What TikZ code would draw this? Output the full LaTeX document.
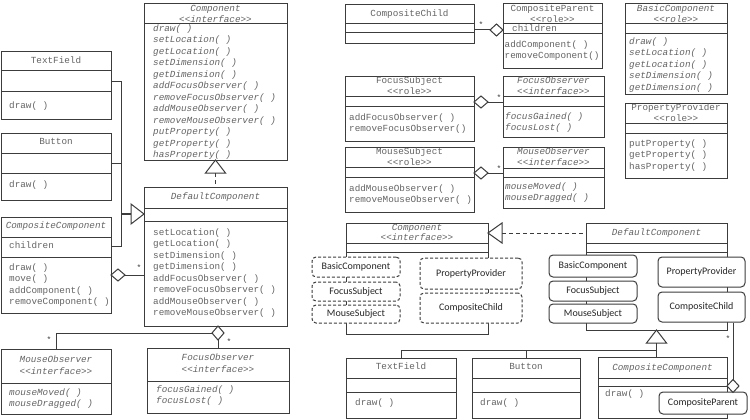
\documentclass[tikz,border=0pt]{standalone}
\usepackage{fontspec}
\setmonofont{Liberation Mono}
\setsansfont{Carlito}
\usetikzlibrary{shapes.geometric,calc}
\definecolor{lc}{RGB}{60,60,60}
\definecolor{tc}{RGB}{100,100,100}
\tikzset{
 ubox/.style={draw=lc, line width=1pt, fill=white, inner sep=0pt, outer sep=0pt, rectangle},
 conn/.style={draw=lc, line width=1pt},
 mono/.style={font=\fontsize{9.3}{11}\selectfont\ttfamily, text=tc, inner sep=0pt, text height=7pt, text depth=2pt},
 monoi/.style={mono, font=\fontsize{9.3}{11}\selectfont\ttfamily\itshape},
 rbox/.style={draw=lc, line width=1pt, rounded corners=4pt, fill=white, inner sep=0pt, font=\fontsize{10}{12}\selectfont\sffamily, text=black!85},
 dbox/.style={rbox, dash pattern=on 3pt off 2pt},
 agg/.style={diamond, draw=lc, line width=1pt, fill=white, inner sep=0pt, outer sep=0pt},
 mult/.style={font=\fontsize{8}{8}\selectfont\ttfamily, text=lc, inner sep=0pt},
 realize/.style={conn, dash pattern=on 4pt off 3pt},
}
\newcommand\ubx[5]{\node[ubox, anchor=north west, minimum width=#4pt, minimum height=#5pt] (#1) at (#2,#3) {};}
\newcommand\dv[2]{\draw[conn] ([yshift=-#2pt]#1.north west) -- ([yshift=-#2pt]#1.north east);}
\newcommand\ml[5]{\foreach \t [count=\i from 0] in {#5} {\node[#4, anchor=west] (#1-\i) at (#2,{#3+11.45*\i}) {\t};}}
\begin{document}
\begin{tikzpicture}[x=1pt,y=-1pt]
\useasboundingbox (0,0) rectangle (750,420);
\fill[white] (0,0) rectangle (750,420);

% ================= LEFT =================
\ubx{compL}{144}{4}{143}{156}
\dv{compL}{20}
\node[monoi] (compL-t) at (215.5,9) {Component};
\node[monoi] (compL-s) at (215.5,20) {<{}<interface>{}>};
\ml{compL-m}{153}{29}{monoi}{draw( ),setLocation( ),getLocation( ),setDimension( ),getDimension( ),addFocusObserver( ),removeFocusObserver( ),addMouseObserver( ),removeMouseObserver( ),putProperty( ),getProperty( ),hasProperty( )}

\ubx{dcL}{144}{187}{143}{139}
\dv{dcL}{21}\dv{dcL}{34}
\node[monoi] (dcL-t) at (215.5,197) {DefaultComponent};
\ml{dcL-m}{153}{233}{mono}{setLocation( ),getLocation( ),setDimension( ),getDimension( ),addFocusObserver( ),removeFocusObserver( ),addMouseObserver( ),removeMouseObserver( )}

\ubx{tfL}{1}{52}{110}{67}
\dv{tfL}{19}\dv{tfL}{40}
\node[mono] (tfL-t) at (56,61) {TextField};
\node[mono, anchor=west] (tfL-m) at (9,106) {draw( )};

\ubx{btL}{1}{133}{110}{67}
\dv{btL}{20}\dv{btL}{40}
\node[mono] (btL-t) at (56,142) {Button};
\node[mono, anchor=west] (btL-m) at (9,185) {draw( )};

\ubx{ccL}{1}{217}{110}{96}
\dv{ccL}{20}\dv{ccL}{40}
\node[monoi] (ccL-t) at (56,226) {CompositeComponent};
\node[mono, anchor=west] (ccL-a) at (9,246) {children};
\ml{ccL-m}{9}{268}{mono}{draw( ),move( ),addComponent( ),removeComponent( )}

\ubx{moL}{1}{349}{110}{65}
\dv{moL}{34}
\node[monoi] (moL-t) at (56,360) {MouseObserver};
\node[monoi] (moL-s) at (56,372) {<{}<interface>{}>};
\ml{moL-m}{9}{393}{monoi}{mouseMoved( ),mouseDragged( )}

\ubx{foL}{147}{348}{142}{65}
\dv{foL}{33}
\node[monoi] (foL-t) at (218,358) {FocusObserver};
\node[monoi] (foL-s) at (218,370) {<{}<interface>{}>};
\ml{foL-m}{156}{390}{monoi}{focusGained( ),focusLost( )}

% left connectors
\coordinate (busL) at (121,214);
\draw[conn] (tfL.east |- 0,82) -| (busL);
\draw[conn] (btL.east |- 0,163) -- (busL |- 0,163);
\draw[conn] (ccL.east |- 0,246) -| (busL);
\draw[draw=lc, line width=2.2pt] (busL) -- ($(dcL.west |- busL)+(-13,0)$);
\draw[conn, fill=white] (dcL.west |- busL) -- ++(-13,-10) -- ++(0,20) -- cycle;

\draw[conn, fill=white] (compL.south) -- ++(-10,13) -- ++(20,0) -- cycle;
\draw[realize] ($(compL.south)+(0,13)$) -- (dcL.north);

\node[agg, minimum width=14pt, minimum height=12pt] (dmL1) at (118,275) {};
\draw[conn] (dmL1.east) -- (dcL.west |- dmL1.east);
\node[mult] (stL1) at (139,268) {*};

\node[agg, minimum width=12pt, minimum height=14pt] (dmL2) at (218,333) {};
\draw[conn] (dmL2.west) -| (moL.north);
\draw[conn] (dmL2.south) -- (dmL2.south |- foL.north);
\node[mult] (stL2) at (49,340) {*};
\node[mult] (stL3) at (229,342) {*};

% ================= RIGHT TOP =================
\ubx{ccT}{345}{5}{129}{39}
\dv{ccT}{19}\dv{ccT}{28}
\node[mono] (ccT-t) at (409.5,14) {CompositeChild};

\ubx{cpT}{503}{4}{99}{65}
\dv{cpT}{20}\dv{cpT}{30}
\node[mono] (cpT-t) at (552.5,9) {CompositeParent};
\node[mono] (cpT-s) at (552.5,20) {<{}<role>{}>};
\node[mono, anchor=west] (cpT-a) at (512,29.5) {children};
\ml{cpT-m}{504.5}{45}{mono}{addComponent( ),removeComponent()}

\ubx{fsT}{345}{77}{129}{64}
\dv{fsT}{20}\dv{fsT}{29}
\node[mono] (fsT-t) at (409.5,81) {FocusSubject};
\node[mono] (fsT-s) at (409.5,92) {<{}<role>{}>};
\ml{fsT-m}{349}{118}{mono}{addFocusObserver( ),removeFocusObserver()}

\ubx{foR}{503}{77}{101}{60}
\dv{foR}{20}\dv{foR}{29}
\node[monoi] (foR-t) at (553.5,81) {FocusObserver};
\node[monoi] (foR-s) at (553.5,92) {<{}<interface>{}>};
\ml{foR-m}{505}{117}{monoi}{focusGained( ),focusLost( )}

\ubx{msT}{345}{147}{129}{65}
\dv{msT}{20}\dv{msT}{30}
\node[mono] (msT-t) at (409.5,152) {MouseSubject};
\node[mono] (msT-s) at (409.5,163) {<{}<role>{}>};
\ml{msT-m}{349}{189}{mono}{addMouseObserver( ),removeMouseObserver( )}

\ubx{moR}{503}{147}{101}{61}
\dv{moR}{21}\dv{moR}{30}
\node[monoi] (moR-t) at (553.5,152) {MouseObserver};
\node[monoi] (moR-s) at (553.5,163) {<{}<interface>{}>};
\ml{moR-m}{505}{187}{monoi}{mouseMoved( ),mouseDragged( )}

\ubx{bcT}{625}{4}{102}{91}
\dv{bcT}{20}\dv{bcT}{30}
\node[monoi] (bcT-t) at (676,9) {BasicComponent};
\node[monoi] (bcT-s) at (676,20) {<{}<role>{}>};
\ml{bcT-m}{629}{42}{monoi}{draw( ),setLocation( ),getLocation( ),setDimension( ),getDimension( )}

\ubx{ppT}{625}{103}{102}{75}
\dv{ppT}{20}\dv{ppT}{30}
\node[mono] (ppT-t) at (676,108) {PropertyProvider};
\node[mono] (ppT-s) at (676,119) {<{}<role>{}>};
\ml{ppT-m}{629}{144}{mono}{putProperty( ),getProperty( ),hasProperty( )}

% top right connectors
\node[agg, minimum width=13pt, minimum height=12pt] (dmR1) at (496.5,30) {};
\draw[conn] (ccT.east |- dmR1) -- (dmR1.west);
\node[mult] (stR1) at (481,25) {*};
\node[agg, minimum width=14pt, minimum height=12pt] (dmR2) at (481,102) {};
\draw[conn] (dmR2.east) -- (foR.west |- dmR2);
\node[mult] (stR2) at (499,98) {*};
\node[agg, minimum width=14pt, minimum height=12pt] (dmR3) at (481,173) {};
\draw[conn] (dmR3.east) -- (moR.west |- dmR3);
\node[mult] (stR3) at (499,169) {*};

% ================= RIGHT BOTTOM =================
\ubx{compR}{346}{223}{142}{111}
\dv{compR}{20}\dv{compR}{29}
\node[monoi] (compR-t) at (417,227.5) {Component};
\node[monoi] (compR-s) at (417,238) {<{}<interface>{}>};
\node[dbox, minimum width=88pt, minimum height=20pt] (dBC) at (356,267) {BasicComponent};
\node[dbox, minimum width=88pt, minimum height=19pt] (dFS) at (356,291.5) {FocusSubject};
\node[dbox, minimum width=88pt, minimum height=18pt] (dMS) at (356,314) {MouseSubject};
\node[dbox, minimum width=102pt, minimum height=31pt] (dPP) at (471,273.5) {PropertyProvider};
\node[dbox, minimum width=102pt, minimum height=30pt] (dCC) at (471,308) {CompositeChild};

\ubx{dcR}{586}{223}{141}{107}
\dv{dcR}{20}\dv{dcR}{29}
\node[monoi] (dcR-t) at (656.5,233) {DefaultComponent};
\node[rbox, minimum width=88pt, minimum height=22pt] (sBC) at (593,266) {BasicComponent};
\node[rbox, minimum width=88pt, minimum height=20pt] (sFS) at (593,291) {FocusSubject};
\node[rbox, minimum width=88pt, minimum height=19pt] (sMS) at (593,313.5) {MouseSubject};
\node[rbox, minimum width=87pt, minimum height=30pt] (sPP) at (701.5,272) {PropertyProvider};
\node[rbox, minimum width=87pt, minimum height=30pt] (sCC) at (701.5,307) {CompositeChild};

\draw[conn, fill=white] ($(compR.north east)+(0,10)$) -- ++(14,-10) -- ++(0,20) -- cycle;
\draw[realize] ($(compR.north east)+(14,10)$) -- ($(dcR.north west)+(0,10)$);

\ubx{tfR}{346}{358}{110}{60}
\dv{tfR}{20}\dv{tfR}{34}
\node[mono] (tfR-t) at (401,367) {TextField};
\node[mono, anchor=west] (tfR-m) at (355,403) {draw( )};

\ubx{btR}{472}{358}{108}{60}
\dv{btR}{20}\dv{btR}{34}
\node[mono] (btR-t) at (526,367) {Button};
\node[mono, anchor=west] (btR-m) at (480,403) {draw( )};

\ubx{ccR}{598}{357}{129}{61}
\dv{ccR}{21}\dv{ccR}{29}
\node[monoi] (ccR-t) at (662.5,368) {CompositeComponent};
\node[mono, anchor=west] (ccR-m) at (605,394) {draw( )};
\node[rbox, minimum width=88pt, minimum height=22pt] (sCP) at (703,403) {CompositeParent};

\draw[conn, fill=white] (dcR.south) -- ++(-10,13) -- ++(20,0) -- cycle;
\draw[conn] ($(dcR.south)+(0,13)$) -- (dcR.south |- ccR.north);
\draw[conn] (tfR.north) |- ($(dcR.south)+(0,20)$);
\draw[conn] (btR.north) -- (btR.north |- 0,350);

\node[agg, minimum width=12pt, minimum height=13pt] (dmR4) at (733,386) {};
\draw[conn] (sCC.south -| dmR4) -- (dmR4.north);
\node[mult] (stR4) at (728,339) {*};
\end{tikzpicture}
\end{document}
